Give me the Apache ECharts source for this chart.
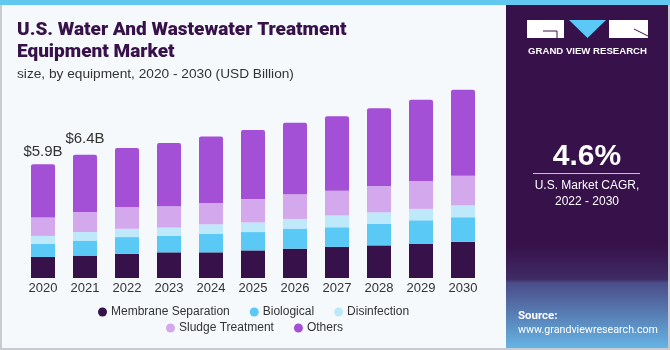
<!DOCTYPE html>
<html>
<head>
<meta charset="utf-8">
<script src="https://cdn.jsdelivr.net/npm/echarts@6/dist/echarts.min.js"></script>
<style>
  html, body { margin: 0; padding: 0; background: #f5f9fc; }
  #chart { width: 670px; height: 350px; }
</style>
</head>
<body>
<div id="chart"></div>
<script>
// values (USD Billion)
var years = ['2020', '2021', '2022', '2023', '2024', '2025', '2026', '2027', '2028', '2029', '2030']
var membrane = [1.09, 1.16, 1.25, 1.33, 1.33, 1.43, 1.52, 1.61, 1.69, 1.78, 1.87]
var biological = [0.69, 0.78, 0.87, 0.85, 0.95, 0.95, 1.04, 1.02, 1.11, 1.21, 1.28]
var disinfection = [0.40, 0.44, 0.43, 0.43, 0.50, 0.50, 0.50, 0.61, 0.60, 0.59, 0.61]
var sludge = [0.95, 1.04, 1.13, 1.11, 1.11, 1.21, 1.28, 1.28, 1.37, 1.45, 1.54]
var others = [2.77, 2.97, 3.06, 3.27, 3.44, 3.58, 3.71, 3.86, 4.03, 4.20, 4.46]
var totalLabels = ['$5.9B', '$6.4B']

var chart = echarts.init(document.getElementById('chart'))

var font = 'Liberation Sans, Arial, sans-serif'
var panelFont = 'Roboto, Liberation Sans, sans-serif'

function seg(name, data, color, extra) {
  return Object.assign({
    name: name,
    type: 'bar',
    stack: 'total',
    barWidth: 24,
    itemStyle: { color: color },
    emphasis: { disabled: true },
    data: data
  }, extra || {})
}

var othersData = others.map(function(v, i) {
  if (i < totalLabels.length) {
    return {
      value: v,
      label: {
        show: true,
        position: 'top',
        distance: i === 0 ? 5 : 8,
        formatter: totalLabels[i],
        fontSize: 15,
        color: '#333',
        fontFamily: font
      }
    }
  }
  return v
})

var legendText = { fontFamily: font, fontSize: 12, color: '#333', padding: [0, 0, 0, -1] }

chart.setOption({
  backgroundColor: '#f5f9fc',
  animation: false,
  title: {
    text: 'U.S. Water And Wastewater Treatment\nEquipment Market',
    subtext: 'size, by equipment, 2020 - 2030 (USD Billion)',
    left: 12,
    top: 14,
    itemGap: 4,
    textStyle: {
      fontFamily: 'Roboto, Liberation Sans, sans-serif',
      fontSize: 19,
      fontWeight: 900,
      lineHeight: 22,
      color: '#37114a'
    },
    subtextStyle: {
      fontFamily: font,
      fontSize: 13.7,
      color: '#333'
    }
  },
  grid: {
    left: 22,
    width: 462,
    top: 85,
    height: 193
  },
  legend: [{
    data: ['Membrane Separation', 'Biological', 'Disinfection'],
    left: 98,
    top: 306,
    padding: 0,
    icon: 'circle',
    itemWidth: 9,
    itemHeight: 9,
    itemGap: 20,
    textStyle: legendText
  }, {
    data: ['Sludge Treatment', 'Others'],
    left: 166,
    top: 322,
    padding: 0,
    icon: 'circle',
    itemWidth: 9,
    itemHeight: 9,
    itemGap: 20,
    textStyle: legendText
  }],
  xAxis: {
    type: 'category',
    data: years,
    axisLine: { show: false },
    axisTick: { show: false },
    axisLabel: { margin: 4, fontSize: 13, color: '#333', fontFamily: font }
  },
  yAxis: {
    type: 'value',
    min: 0,
    max: 10,
    show: false
  },
  series: [
    seg('Membrane Separation', membrane, '#37114a'),
    seg('Biological', biological, '#5bc9f6'),
    seg('Disinfection', disinfection, '#bde9fa'),
    seg('Sludge Treatment', sludge, '#d4a8ec'),
    seg('Others', othersData, '#a450d6', { itemStyle: { color: '#a450d6', borderRadius: [2, 2, 0, 0] } })
  ],
  graphic: [
    // top stripe and frame
    { type: 'rect', shape: { x: 0, y: 0, width: 670, height: 5 }, style: { fill: '#63c8f0' }, z: 10 },
    { type: 'rect', shape: { x: 0, y: 5, width: 2, height: 345 }, style: { fill: '#c8ccd0' }, z: 10 },
    { type: 'rect', shape: { x: 668, y: 5, width: 2, height: 345 }, style: { fill: '#c8ccd0' }, z: 10 },
    { type: 'rect', shape: { x: 0, y: 348, width: 670, height: 2 }, style: { fill: '#c8ccd0' }, z: 10 },
    // right panel
    {
      type: 'rect',
      shape: { x: 506, y: 5, width: 162, height: 343 },
      style: {
        fill: new echarts.graphic.LinearGradient(0, 0, 0, 1, [
          { offset: 0, color: '#37114a' },
          { offset: 0.7, color: '#37114a' },
          { offset: 0.8, color: '#3f2c66' },
          { offset: 0.81, color: '#4a4c88' },
          { offset: 1, color: '#66b4e4' }
        ])
      },
      z: 5
    },
    // logo
    { type: 'rect', shape: { x: 527, y: 20, width: 37, height: 18 }, style: { fill: '#fff' }, z: 6 },
    { type: 'polyline', shape: { points: [[543, 31], [557, 31], [557, 38]] }, style: { stroke: '#37114a', lineWidth: 1, fill: null }, z: 7 },
    { type: 'polygon', shape: { points: [[569, 20], [606, 20], [587.5, 38]] }, style: { fill: '#5bc9f6' }, z: 6 },
    { type: 'rect', shape: { x: 609, y: 20, width: 39, height: 18 }, style: { fill: '#fff' }, z: 6 },
    { type: 'line', shape: { x1: 634, y1: 29, x2: 648, y2: 36 }, style: { stroke: '#37114a', lineWidth: 1 }, z: 7 },
    {
      type: 'text', x: 587.5, y: 51, z: 6,
      style: { text: 'GRAND VIEW RESEARCH', fill: '#fff', font: 'bold 9.6px ' + font, align: 'center', verticalAlign: 'middle' }
    },
    {
      type: 'text', x: 587, y: 157, z: 6,
      style: { text: '4.6%', fill: '#fff', font: 'bold 30px ' + font, align: 'center', verticalAlign: 'middle' }
    },
    { type: 'line', shape: { x1: 533, y1: 173.5, x2: 640, y2: 173.5 }, style: { stroke: '#c9c3d0', lineWidth: 1 }, z: 6 },
    {
      type: 'text', x: 587, y: 186, z: 6,
      style: { text: 'U.S. Market CAGR,', fill: '#fff', font: '12px ' + font, align: 'center', verticalAlign: 'middle' }
    },
    {
      type: 'text', x: 587, y: 202, z: 6,
      style: { text: '2022 - 2030', fill: '#fff', font: '12px ' + font, align: 'center', verticalAlign: 'middle' }
    },
    {
      type: 'text', x: 518, y: 316, z: 6,
      style: { text: 'Source:', fill: '#fff', font: 'bold 11.5px ' + panelFont, verticalAlign: 'middle' }
    },
    {
      type: 'text', x: 518, y: 330, z: 6,
      style: { text: 'www.grandviewresearch.com', fill: '#fff', font: '10.7px ' + panelFont, verticalAlign: 'middle' }
    }
  ]
})
</script>
</body>
</html>
